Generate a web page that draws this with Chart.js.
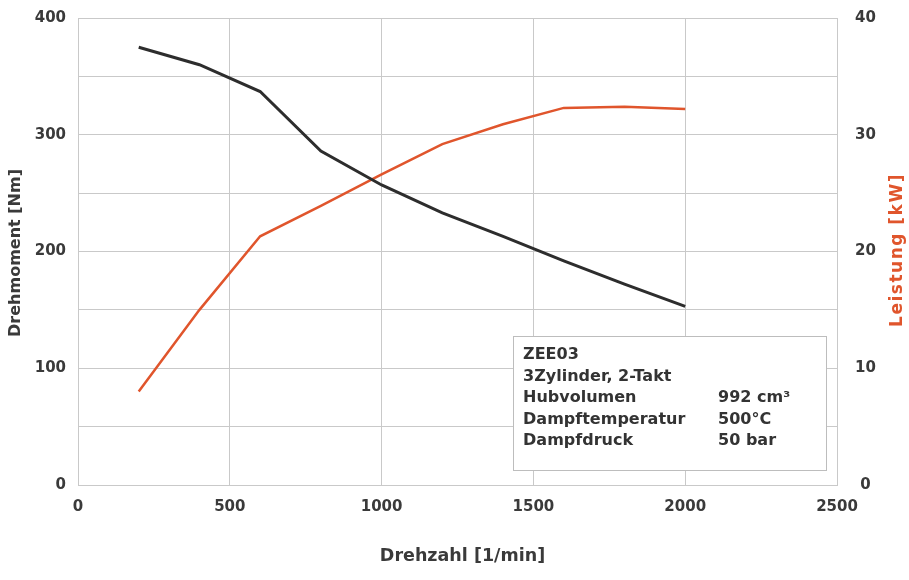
<!DOCTYPE html>
<html>
<head>
<meta charset="utf-8">
<script src="https://cdn.jsdelivr.net/npm/chart.js@4"></script>
<style>
  html, body { margin: 0; background: #fff; }
  #wrap { width: 909px; height: 580px; }
</style>
</head>
<body>
<div id="wrap"><canvas id="chart"></canvas></div>
<script>
// Werte
const RPM = [200, 400, 600, 800, 1000, 1200, 1400, 1600, 1800, 2000];
const TORQUE = [375, 360, 337, 286, 257, 233, 213, 192, 172, 153];
const POWER = [8.0, 15.0, 21.3, 23.9, 26.6, 29.2, 30.9, 32.3, 32.4, 32.2];

const X_TITLE = 'Drehzahl [1/min]';
const Y_TITLE = 'Drehmoment [Nm]';
const Y1_TITLE = 'Leistung [kW]';

const INFO_LINES = [
    ['ZEE03', ''],
    ['3Zylinder, 2-Takt', ''],
    ['Hubvolumen', '992 cm³'],
    ['Dampftemperatur', '500°C'],
    ['Dampfdruck', '50 bar']
];
// Lage des Infokastens in Achsenwerten (Drehzahl / Drehmoment)
const INFO_BOX = { x0: 1433, x1: 2464, y0: 127.6, y1: 12.8 };

const FONT = 'DejaVu Sans';
const TEXT = '#3a3a3a';
const GRID = '#c9c9c9';
const ORANGE = '#e0552c';

const toXY = (ys) => RPM.map((x, i) => ({ x, y: ys[i] }));

// Achsentitel und Infokasten selbst zeichnen
const extras = {
    id: 'extras',
    afterDatasetsDraw(chart) {
        const { ctx, scales } = chart;
        const a = chart.chartArea;
        ctx.save();

        // Infokasten
        const bx = scales.x.getPixelForValue(INFO_BOX.x0);
        const bx1 = scales.x.getPixelForValue(INFO_BOX.x1);
        const by = scales.y.getPixelForValue(INFO_BOX.y0);
        const by1 = scales.y.getPixelForValue(INFO_BOX.y1);
        ctx.fillStyle = '#fff';
        ctx.fillRect(bx, by, bx1 - bx, by1 - by);
        ctx.strokeStyle = '#bdbdbd';
        ctx.lineWidth = 1;
        ctx.strokeRect(Math.round(bx) + 0.5, Math.round(by) + 0.5, Math.round(bx1 - bx), Math.round(by1 - by));

        ctx.fillStyle = '#333';
        ctx.font = `bold 16px "${FONT}"`;
        ctx.textBaseline = 'middle';
        ctx.textAlign = 'left';
        INFO_LINES.forEach((ln, i) => {
            const ty = by + 19 + i * 21.5;
            ctx.fillText(ln[0], bx + 10, ty);
            if (ln[1]) ctx.fillText(ln[1], bx + 205, ty);
        });

        // Achsentitel
        ctx.fillStyle = TEXT;
        ctx.textAlign = 'center';
        ctx.font = `bold 17.5px "${FONT}"`;
        ctx.fillText(X_TITLE, (a.left + a.right) / 2 + 5, 556);

        ctx.font = `bold 16px "${FONT}"`;
        ctx.save();
        ctx.translate(16, 253);
        ctx.rotate(-Math.PI / 2);
        ctx.fillText(Y_TITLE, 0, 0);
        ctx.restore();

        ctx.save();
        ctx.translate(898, 250);
        ctx.rotate(-Math.PI / 2);
        ctx.fillStyle = ORANGE;
        ctx.font = `bold 17px "${FONT}"`;
        ctx.letterSpacing = '1.5px';
        ctx.fillText(Y1_TITLE, 0, 0);
        ctx.restore();

        ctx.restore();
    }
};

const tickFont = { family: FONT, size: 15, weight: 'bold' };

// feste Achsbreiten, ohne Zusatzabstand für Beschriftungen
const fitY = (w) => (s) => { s.width = w; s.paddingTop = 0; s.paddingBottom = 0; };

new Chart(document.getElementById('chart'), {
    type: 'line',
    data: {
        datasets: [
            { label: 'Drehmoment', data: toXY(TORQUE), yAxisID: 'y', borderColor: '#2d2d2d', borderWidth: 3, pointRadius: 0, tension: 0 },
            { label: 'Leistung', data: toXY(POWER), yAxisID: 'y1', borderColor: ORANGE, borderWidth: 2.5, pointRadius: 0, tension: 0 }
        ]
    },
    options: {
        responsive: true, maintainAspectRatio: false, animation: false,
        devicePixelRatio: 1,
        layout: { padding: { top: 18, left: 0, right: 0, bottom: 0 } },
        plugins: { legend: { display: false }, tooltip: { enabled: false } },
        scales: {
            x: {
                type: 'linear', min: 0, max: 2500,
                ticks: { stepSize: 500, padding: 13, color: TEXT, font: tickFont, maxRotation: 0,
                    callback: (v) => String(v) },
                grid: { color: GRID, drawTicks: false },
                border: { color: GRID },
                afterFit: (s) => { s.height = 95; s.paddingLeft = 0; s.paddingRight = 0; }
            },
            y: {
                position: 'left', min: 0, max: 400,
                ticks: { stepSize: 50, padding: 12, color: TEXT, font: tickFont,
                    callback: (v) => (v % 100 === 0 ? String(v) : '') },
                grid: { color: GRID, drawTicks: false },
                border: { color: GRID },
                afterFit: fitY(78)
            },
            y1: {
                position: 'right', min: 0, max: 40,
                ticks: { stepSize: 10, padding: 18, color: TEXT, font: tickFont, crossAlign: 'center' },
                grid: { drawOnChartArea: false, drawTicks: false },
                border: { color: GRID },
                afterFit: fitY(72)
            }
        }
    },
    plugins: [extras]
});
</script>
</body>
</html>
